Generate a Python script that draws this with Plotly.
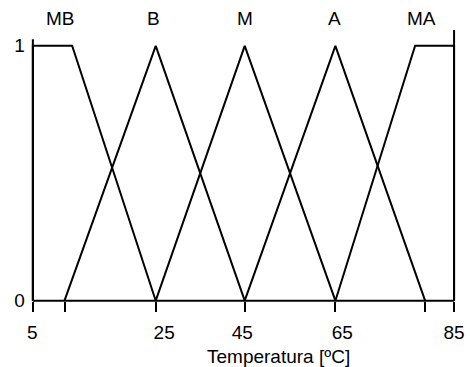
import plotly.graph_objects as go

# Membership functions (x in ºC, display units), y membership degree
set_names = ["MB", "B", "M", "A", "MA"]
mb_x = [5, 5, 12.46, 28.34]
mb_y = [0, 1, 1, 0]
b_x = [11.01, 28.34, 45.24]
b_y = [0, 1, 0]
m_x = [28.34, 45.24, 62.46]
m_y = [0, 1, 0]
a_x = [45.24, 62.46, 79.5]
a_y = [0, 1, 0]
ma_x = [62.46, 77.6, 85, 85]
ma_y = [0, 1, 1, 0]

label_x = [10.3, 27.9, 45.2, 62.2, 78.8]

tick_vals = [5, 11.01, 28.34, 45.24, 62.46, 79.5, 85]
ticklabel_pos = [4.87, 29.94, 44.76, 63.78, 85]
ticklabel_text = ["5", "25", "45", "65", "85"]
ytick_vals = [0, 1]
ytick_text = ["0", "1"]

FONT = "Arial, Liberation Sans, sans-serif"
FS = 19

W, H = 470, 367
ml, mr, mt, mb = 20, 5, 10, 50
px0, px85 = 33.0, 459.0
py0, py1 = 300.7, 45.8
sx = (px85 - px0) / 80.0
sy = py0 - py1
x_lo = 5 - (px0 - ml) / sx
x_hi = 85 + ((W - mr) - px85) / sx
y_hi = (py0 - mt) / sy
y_lo = -((H - mb) - py0) / sy

fig = go.Figure()
for xs, ys in [(mb_x, mb_y), (b_x, b_y), (m_x, m_y), (a_x, a_y), (ma_x, ma_y)]:
    fig.add_trace(go.Scatter(x=xs, y=ys, mode="lines",
                             line=dict(color="black", width=2),
                             showlegend=False, hoverinfo="skip"))
# carrier trace for the label axis (invisible)
fig.add_trace(go.Scatter(x=[x_lo, x_hi], y=[None, None], xaxis="x2", mode="lines",
                         showlegend=False, hoverinfo="skip"))

# axis frame lines
line_style = dict(color="black", width=2)
fig.add_shape(type="line", x0=5, x1=85, y0=0, y1=0, xref="x", yref="y", line=line_style)
fig.add_shape(type="line", x0=5, x1=5, y0=0, y1=1.0255, xref="x", yref="y", line=line_style)
fig.add_shape(type="line", x0=85, x1=85, y0=0, y1=1.062, xref="x", yref="y", line=line_style)

for name, lx in zip(set_names, label_x):
    fig.add_annotation(x=lx, y=1.108, xref="x", yref="y", text=name,
                       showarrow=False, font=dict(family=FONT, size=FS, color="black"),
                       xanchor="center", yanchor="middle")

title_py = 356
fig.add_annotation(x=5 + (281 - px0) / sx, y=((H - mb) - title_py) / (H - mt - mb),
                   xref="x", yref="paper",
                   text="Temperatura [ºC]", showarrow=False,
                   font=dict(family=FONT, size=FS, color="black"),
                   xanchor="center", yanchor="middle")

xpos = (0 - y_lo) / (y_hi - y_lo)
ypos = (5 - x_lo) / (x_hi - x_lo)

fig.update_layout(
    width=W, height=H,
    margin=dict(l=ml, r=mr, t=mt, b=mb, pad=0),
    paper_bgcolor="white", plot_bgcolor="white",
    font=dict(family=FONT, size=FS, color="black"),
    xaxis=dict(range=[x_lo, x_hi], showgrid=False, zeroline=False, showline=False,
               tickmode="array", tickvals=tick_vals, showticklabels=False,
               ticks="outside", ticklen=10, tickwidth=2, tickcolor="black",
               anchor="free", position=xpos),
    xaxis2=dict(range=[x_lo, x_hi], overlaying="x", side="bottom",
                showgrid=False, zeroline=False, showline=False,
                tickmode="array", tickvals=ticklabel_pos, ticktext=ticklabel_text,
                ticks="", anchor="free", position=xpos, ticklabelstandoff=18,
                tickfont=dict(family=FONT, size=FS, color="black")),
    yaxis=dict(range=[y_lo, y_hi], showgrid=False, zeroline=False, showline=False,
               tickmode="array", tickvals=ytick_vals, ticktext=ytick_text,
               ticks="", anchor="free", position=ypos, ticklabelstandoff=8,
               tickfont=dict(family=FONT, size=FS, color="black")),
)

fig.write_html("out.html")
